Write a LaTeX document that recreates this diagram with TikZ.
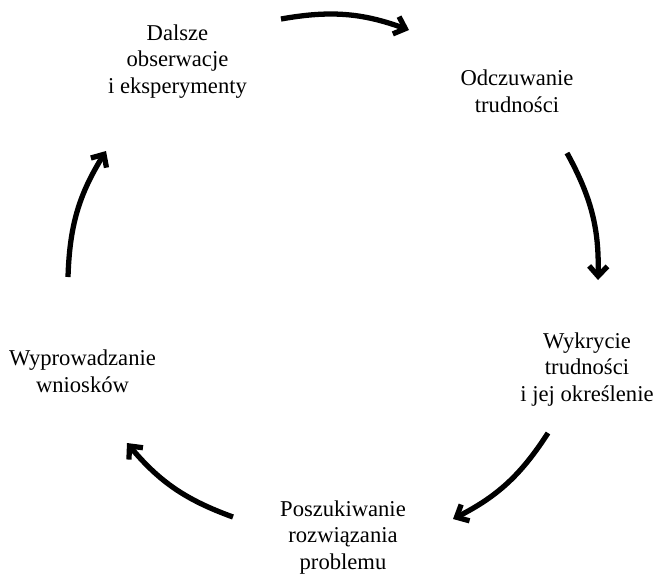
\documentclass[tikz,border=0pt]{standalone}
\usepackage{fontspec}
\setmainfont{Liberation Serif}
\usepackage{tikz}
\usetikzlibrary{arrows.meta, positioning, calc}

\begin{document}
\begin{tikzpicture}[x=0.03cm, y=-0.03cm,
    stage/.style={align=center, inner sep=0pt, anchor=base, font=\fontsize{19.3}{22.5}\selectfont},
    cycarrow/.style={line width=4.5pt, -{Straight Barb[length=3mm, width=5.5mm]}, bend left=15}]
  \useasboundingbox (0,0) rectangle (657,577);

  \node[stage] (obs)  at (177.5,93) {Dalsze\\obserwacje\\i eksperymenty};
  \node[stage] (odcz) at (517,112)  {Odczuwanie\\trudności};
  \node[stage] (wykr) at (587,401)  {Wykrycie\\trudności\\i jej określenie};
  \node[stage] (posz) at (343,569)  {Poszukiwanie\\rozwiązania\\problemu};
  \node[stage] (wypr) at (82.5,392) {Wyprowadzanie\\wniosków};

  % arrow ends
  \coordinate (a1) at (281,19);  \coordinate (b1) at (409,30);
  \coordinate (a2) at (567,153); \coordinate (b2) at (598,280);
  \coordinate (a3) at (548,433); \coordinate (b3) at (453,519);
  \coordinate (a4) at (233,517); \coordinate (b4) at (127,443);
  \coordinate (a5) at (68,277);  \coordinate (b5) at (106,151);

  \draw[cycarrow] (a1) to (b1);
  \draw[cycarrow] (a2) to (b2);
  \draw[cycarrow] (a3) to (b3);
  \draw[cycarrow] (a4) to (b4);
  \draw[cycarrow] (a5) to (b5);
\end{tikzpicture}
\end{document}
